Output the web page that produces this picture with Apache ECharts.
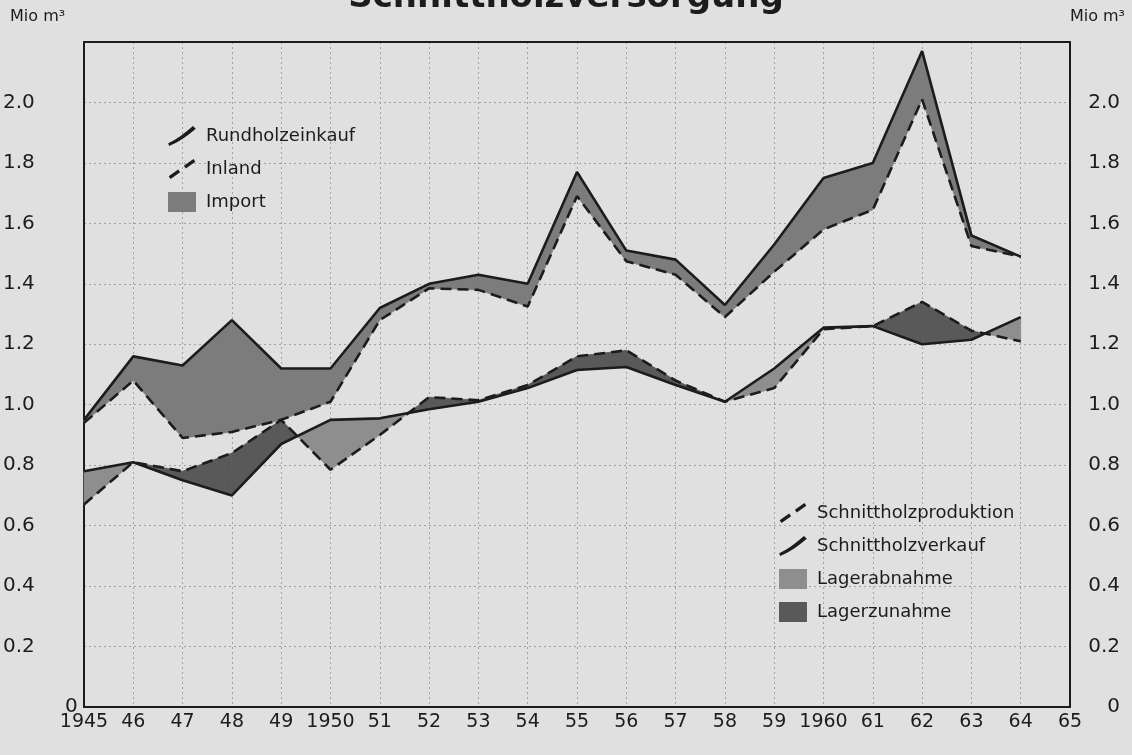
<!DOCTYPE html>
<html>
<head>
<meta charset="utf-8">
<script src="https://cdn.jsdelivr.net/npm/echarts@6/dist/echarts.min.js"></script>
<style>
html,body{margin:0;padding:0;background:#e0e0e0;}
#chart{width:1132px;height:755px;}
</style>
</head>
<body>
<div id="chart"></div>
<script>
// ---- data (Mio m³) ----
const years = [1945,1946,1947,1948,1949,1950,1951,1952,1953,1954,1955,1956,1957,1958,1959,1960,1961,1962,1963,1964];
const rundholzeinkauf = [0.95,1.16,1.13,1.28,1.12,1.12,1.32,1.40,1.43,1.40,1.77,1.51,1.48,1.33,1.53,1.75,1.80,2.17,1.56,1.49];
const inland          = [0.94,1.08,0.89,0.91,0.95,1.01,1.28,1.385,1.38,1.325,1.69,1.475,1.43,1.29,1.44,1.58,1.645,2.01,1.525,1.49];
const produktion      = [0.67,0.81,0.78,0.84,0.95,0.785,0.90,1.025,1.015,1.065,1.16,1.18,1.08,1.01,1.055,1.25,1.26,1.34,1.245,1.21];
const verkauf         = [0.78,0.81,0.75,0.70,0.87,0.95,0.955,0.985,1.01,1.055,1.115,1.125,1.065,1.01,1.12,1.255,1.26,1.20,1.215,1.29];
const xTickLabels = ['1945','46','47','48','49','1950','51','52','53','54','55','56','57','58','59','1960','61','62','63','64','65'];
const yTicks = [0,0.2,0.4,0.6,0.8,1.0,1.2,1.4,1.6,1.8,2.0];

const INK = '#1c1c1c';
const C_IMPORT = '#7c7c7c';
const C_ABNAHME = '#8e8e8e';
const C_ZUNAHME = '#595959';
const FONT = 'DejaVu Sans';
const GRIDLINE = {color: '#a2a2a2', width: 1, type: [2,3]};

function pairs(vals){ return years.map((y,i)=>[y, vals[i]]); }

// polygons between two lines where sgn*(a-b) > 0, split at crossings
function bandPolys(a, b, sgn){
  const polys = [];
  for (let i = 0; i < years.length - 1; i++){
    const x0 = years[i], x1 = years[i+1];
    const d0 = sgn*(a[i]-b[i]), d1 = sgn*(a[i+1]-b[i+1]);
    if (d0 <= 0 && d1 <= 0) continue;
    const pt = (t, arr) => [x0 + t*(x1-x0), arr[i] + t*(arr[i+1]-arr[i])];
    if (d0 >= 0 && d1 >= 0){
      polys.push([pt(0,a), pt(1,a), pt(1,b), pt(0,b)]);
    } else {
      const t = d0/(d0-d1);
      if (d0 > 0) polys.push([pt(0,a), pt(t,a), pt(0,b)]);
      else polys.push([pt(t,a), pt(1,a), pt(1,b)]);
    }
  }
  return polys;
}

function bandSeries(name, a, b, sgn, color){
  return {
    name: name, type: 'custom', z: 1,
    itemStyle: {color: color},
    data: [[years[0], 0]],
    encode: {x: 0, y: 1},
    silent: true,
    renderItem: function(params, api){
      const children = bandPolys(a, b, sgn).map(poly => ({
        type: 'polygon',
        shape: {points: poly.map(p => api.coord(p))},
        style: {fill: color, stroke: color, lineWidth: 0.8}
      }));
      return {type: 'group', children: children};
    }
  };
}

function lineSeries(name, vals, dashed){
  return {
    name: name, type: 'line', z: 5,
    color: INK,
    data: pairs(vals),
    showSymbol: false, symbol: 'none',
    lineStyle: {color: INK, width: 2.6, type: dashed ? [11,6] : 'solid'},
    silent: true
  };
}

const ICON_SOLID = 'path://M0,18 C9,14 17,8 26,0 L29,3 C20,11 11,17 1,21 Z';
const ICON_DASH  = 'path://M0,18 L10,11 L12,14 L2,21 Z M16,7 L26,0 L28,3 L18,10 Z';

const legendText = {fontFamily: FONT, fontSize: 18, color: INK, padding: [0,0,0,5]};

const chart = echarts.init(document.getElementById('chart'), null, {renderer: 'canvas'});
chart.setOption({
  backgroundColor: '#e0e0e0',
  animation: false,
  title: {
    text: 'Schnittholzversorgung',
    left: 'center', top: -24,
    textStyle: {fontFamily: FONT, fontSize: 34, fontWeight: 'bold', color: INK}
  },
  graphic: [
    {type: 'text', left: 10, top: 9, style: {text: 'Mio m³', font: '16px "DejaVu Sans"', fill: INK}},
    {type: 'text', right: 7, top: 9, style: {text: 'Mio m³', font: '16px "DejaVu Sans"', fill: INK}}
  ],
  legend: [
    {
      orient: 'vertical', left: 163, top: 121,
      itemWidth: 28, itemHeight: 20, itemGap: 13,
      textStyle: legendText, selectedMode: false,
      data: [
        {name: 'Rundholzeinkauf', icon: ICON_SOLID, itemStyle: {color: INK, borderWidth: 0}},
        {name: 'Inland', icon: ICON_DASH, itemStyle: {color: INK, borderWidth: 0}},
        {name: 'Import', icon: 'rect', itemStyle: {color: C_IMPORT, borderWidth: 0}}
      ]
    },
    {
      orient: 'vertical', left: 774, top: 498,
      itemWidth: 28, itemHeight: 20, itemGap: 13,
      textStyle: legendText, selectedMode: false,
      data: [
        {name: 'Schnittholzproduktion', icon: ICON_DASH, itemStyle: {color: INK, borderWidth: 0}},
        {name: 'Schnittholzverkauf', icon: ICON_SOLID, itemStyle: {color: INK, borderWidth: 0}},
        {name: 'Lagerabnahme', icon: 'rect', itemStyle: {color: C_ABNAHME, borderWidth: 0}},
        {name: 'Lagerzunahme', icon: 'rect', itemStyle: {color: C_ZUNAHME, borderWidth: 0}}
      ]
    }
  ],
  grid: {left: 84, right: 62, top: 42, bottom: 48, show: false},
  xAxis: [
    {
      type: 'value', min: 1945, max: 1965, interval: 1, position: 'bottom',
      axisLine: {show: true, onZero: false, lineStyle: {color: INK, width: 2}},
      axisTick: {show: false},
      axisLabel: {
        margin: 6, fontFamily: FONT, fontSize: 19, color: INK,
        formatter: v => xTickLabels[Math.round(v) - 1945]
      },
      splitLine: {show: true, showMinLine: false, showMaxLine: false, lineStyle: GRIDLINE}
    },
    {
      type: 'value', min: 1945, max: 1965, interval: 1, position: 'top',
      axisLine: {show: true, onZero: false, lineStyle: {color: INK, width: 2}},
      axisTick: {show: false}, axisLabel: {show: false}, splitLine: {show: false}
    }
  ],
  yAxis: [
    {
      type: 'value', min: 0, max: 2.2, interval: 0.2, position: 'left',
      axisLine: {show: true, onZero: false, lineStyle: {color: INK, width: 2}},
      axisTick: {show: false},
      axisLabel: {
        margin: 81, align: 'left', fontFamily: FONT, fontSize: 20, color: INK,
        formatter: v => {
          const k = yTicks.findIndex(t => Math.abs(t - v) < 1e-6);
          if (k < 0) return '';
          return k === 0 ? '{z|0}' : yTicks[k].toFixed(1);
        },
        rich: {z: {fontFamily: FONT, fontSize: 20, color: INK, padding: [0,0,0,62]}}
      },
      splitLine: {show: true, showMinLine: false, showMaxLine: false, lineStyle: GRIDLINE}
    },
    {
      type: 'value', min: 0, max: 2.2, interval: 0.2, position: 'right',
      axisLine: {show: true, onZero: false, lineStyle: {color: INK, width: 2}},
      axisTick: {show: false},
      axisLabel: {
        margin: 50, align: 'right', fontFamily: FONT, fontSize: 20, color: INK,
        formatter: v => {
          const k = yTicks.findIndex(t => Math.abs(t - v) < 1e-6);
          if (k < 0) return '';
          return k === 0 ? '0' : yTicks[k].toFixed(1);
        }
      },
      splitLine: {show: false}
    }
  ],
  series: [
    bandSeries('Import', rundholzeinkauf, inland, 1, C_IMPORT),
    bandSeries('Lagerzunahme', produktion, verkauf, 1, C_ZUNAHME),
    bandSeries('Lagerabnahme', produktion, verkauf, -1, C_ABNAHME),
    lineSeries('Rundholzeinkauf', rundholzeinkauf, false),
    lineSeries('Inland', inland, true),
    lineSeries('Schnittholzproduktion', produktion, true),
    lineSeries('Schnittholzverkauf', verkauf, false)
  ]
});
</script>
</body>
</html>
